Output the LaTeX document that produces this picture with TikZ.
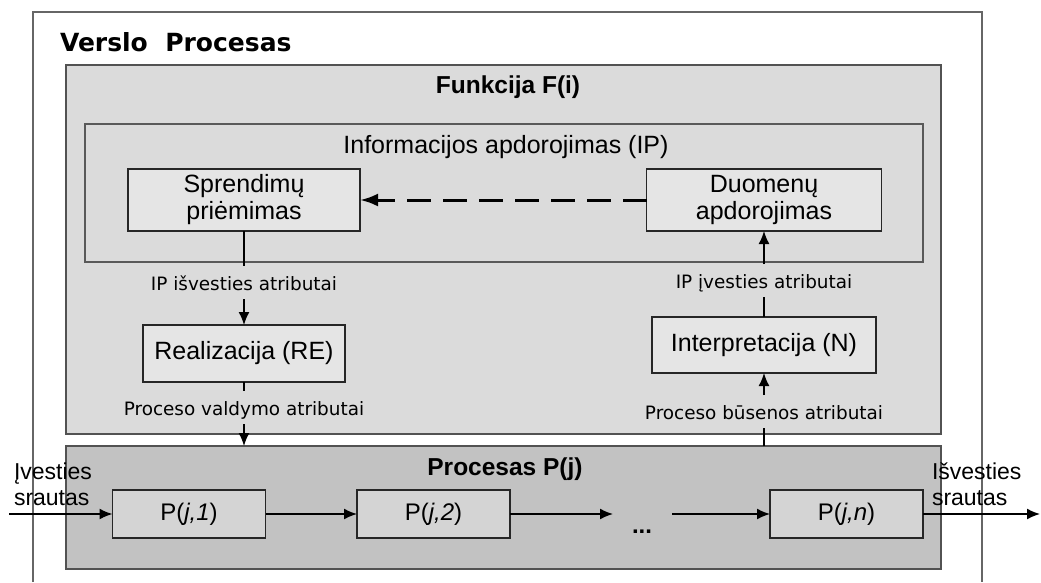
\documentclass[tikz,border=0pt]{standalone}
\usepackage{fontspec}
\setmainfont{Liberation Sans}
\newfontfamily\labelfont{DejaVu Sans}
\usetikzlibrary{arrows.meta}
\definecolor{framegray}{gray}{0.40}
\definecolor{funcfill}{gray}{0.86}
\definecolor{ipfill}{gray}{0.86}
\definecolor{boxfill}{gray}{0.90}
\definecolor{procfill}{gray}{0.76}
\definecolor{pfill}{gray}{0.83}
\definecolor{edgegray}{gray}{0.32}

\begin{document}
\begin{tikzpicture}[x=1pt,y=-1pt,
  every node/.style={inner sep=0pt, outer sep=0pt},
  area/.style={draw=edgegray, line width=2.4pt},
  stepbox/.style={draw=black!85, line width=1.8pt, fill=boxfill, align=center,
    font=\fontsize{25}{27}\selectfont},
  pbox/.style={draw=black!85, line width=1.8pt, fill=pfill, minimum width=153pt,
    minimum height=48pt, font=\fontsize{24}{26}\selectfont},
  attr/.style={font=\labelfont\fontsize{18.4}{20}\selectfont, text height=15pt,
    text depth=0pt, inner ysep=9pt, anchor=base},
  flowtext/.style={font=\fontsize{23}{26}\selectfont, align=left, anchor=base west},
  heading/.style={font=\bfseries\fontsize{24.5}{28}\selectfont, anchor=base},
  conn/.style={line width=1.6pt},
  arr/.style={line width=1.6pt, -{Latex[length=13pt,width=11pt]}},
]
\useasboundingbox (0,0) rectangle (1041,582);
\fill[white] (0,0) rectangle (1041,582);

% outer business process frame (runs past the lower edge)
\draw[framegray, line width=2pt] (33,582) -- (33,12) -- (982,12) -- (982,582);
\node[anchor=base west, font=\labelfont\bfseries\fontsize{25}{28}\selectfont] (vp) at (60,51) {Verslo\ \ Procesas};

% function area
\node[area, fill=funcfill, minimum width=875pt, minimum height=369pt] (func) at (503.5,249.5) {};
\node[heading] (functitle) at (508,93) {Funkcija F(i)};

% information processing area
\node[area, draw=black!65, fill=ipfill, minimum width=838pt, minimum height=138pt] (ip) at (504,193) {};
\node[anchor=base, font=\fontsize{25}{28}\selectfont] (iptitle) at (506,153) {Informacijos apdorojimas (IP)};

\node[stepbox, minimum width=232pt, minimum height=62pt] (sp) at (244,200) {Sprendimų\\priėmimas};
\node[stepbox, minimum width=235pt, minimum height=62pt] (du) at (764,200) {Duomenų\\apdorojimas};

% realization and interpretation
\node[stepbox, minimum width=202pt, minimum height=57pt] (re) at (244,353.5) {Realizacija (RE)};
\node[stepbox, minimum width=224pt, minimum height=56pt] (in) at (764,345) {Interpretacija (N)};

% process area
\node[area, fill=procfill, minimum width=875pt, minimum height=123pt] (proc) at (503.5,507.5) {};
\node[heading] (proctitle) at (505,475) {Procesas P(j)};

\node[pbox] (p1) at (189,514) {P(\textit{j,1})};
\node[pbox] (p2) at (433.5,514) {P(\textit{j,2})};
\node[pbox] (pn) at (846.5,514) {P(\textit{j,n})};

% attribute labels on the vertical links
\node[attr] (lab1) at (244,290) {IP išvesties atributai};
\node[attr] (lab2) at (244,415) {Proceso valdymo atributai};
\node[attr] (lab3) at (764,288) {IP įvesties atributai};
\node[attr] (lab4) at (764,419) {Proceso būsenos atributai};

% left branch: decision -> realization -> process
\draw[conn] (sp.south) -- (lab1.north);
\draw[arr] (lab1.south) -- (re.north);
\draw[conn] (re.south) -- (lab2.north);
\draw[arr] (lab2.south) -- (lab2.south |- proc.north);

% right branch: process -> interpretation -> data processing
\draw[conn] (lab4.south |- proc.north) -- (lab4.south);
\draw[arr] (lab4.north) -- (in.south);
\draw[conn] (in.north) -- (lab3.south);
\draw[arr] (lab3.north) -- (du.south);

% data processing feeds decision making
\draw[line width=3pt, dash pattern=on 24pt off 12pt, -{Latex[length=18pt,width=13pt]}] (du.west) -- (sp.east);

% process chain
\coordinate (src) at (9,514);
\coordinate (gapL) at (613,514);
\coordinate (gapR) at (672,514);
\coordinate (sink) at (1040,514);
\draw[arr] (src) -- (p1.west);
\draw[arr] (p1.east) -- (p2.west);
\draw[arr] (p2.east) -- (gapL);
\draw[arr] (gapR) -- (pn.west);
\draw[arr] (pn.east) -- (sink);
\node[anchor=base, font=\bfseries\fontsize{24}{26}\selectfont] (dots) at (642,533) {...};

% input and output flows (base anchor sits on the last line)
\node[flowtext] (inflow) at (14,505) {Įvesties\\srautas};
\node[flowtext] (outflow) at (932,505) {Išvesties\\srautas};
\end{tikzpicture}
\end{document}
